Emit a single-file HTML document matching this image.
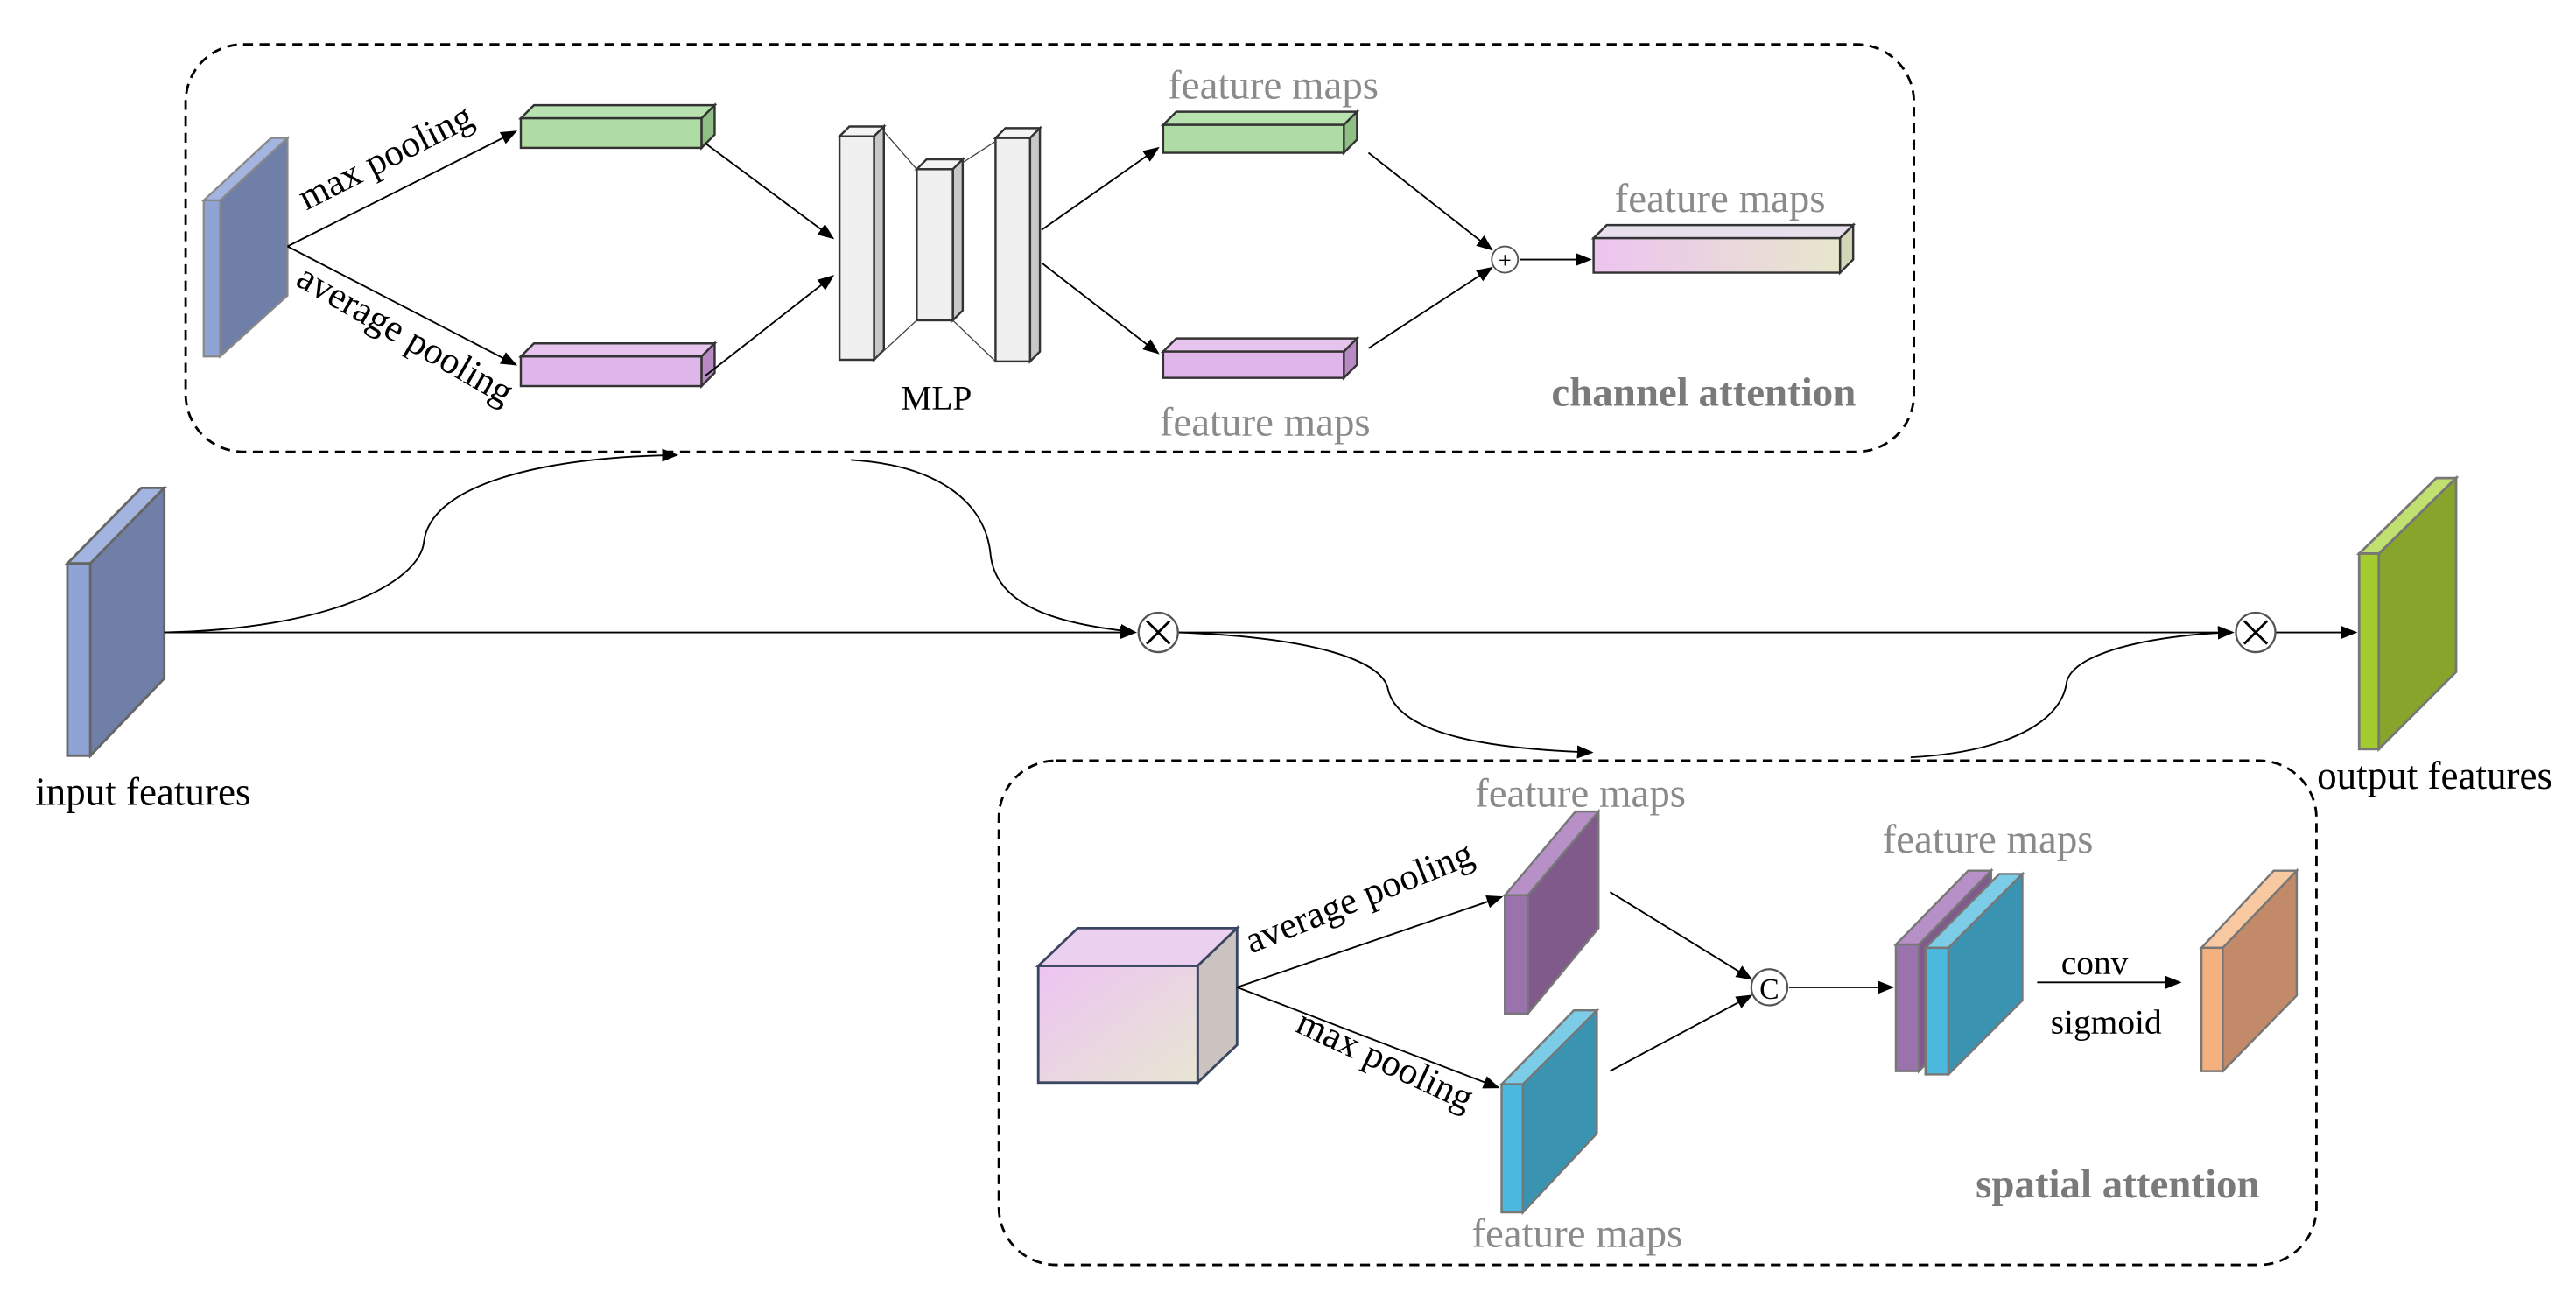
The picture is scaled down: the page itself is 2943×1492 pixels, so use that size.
<!DOCTYPE html>
<html><head><meta charset="utf-8"><style>
html,body{margin:0;padding:0;background:#fff;}
svg{display:block}
text{font-family:"Liberation Serif",serif;}
</style></head><body>
<svg width="2943" height="1492" viewBox="0 0 1568 795" preserveAspectRatio="none" xmlns="http://www.w3.org/2000/svg">
<defs>
<marker id="a" markerWidth="10" markerHeight="10" refX="9" refY="5" orient="auto" markerUnits="userSpaceOnUse"><path d="M0,1 L10,5 L0,9 z" fill="#000"/></marker>
<linearGradient id="g1" x1="0" y1="0" x2="1" y2="0"><stop offset="0" stop-color="#ecc4f0"/><stop offset="1" stop-color="#e8e6cc"/></linearGradient>
<linearGradient id="g2" x1="0" y1="0" x2="1" y2="1"><stop offset="0" stop-color="#ecc4f2"/><stop offset="1" stop-color="#e8e6d2"/></linearGradient>
</defs>
<rect x="113" y="27" width="1052" height="248" rx="35" fill="none" stroke="#000" stroke-width="1.5" stroke-dasharray="6,4"/>
<rect x="608" y="463" width="802" height="307" rx="35" fill="none" stroke="#000" stroke-width="1.5" stroke-dasharray="6,4"/>

<g stroke="#666" stroke-width="1.5">
<polygon points="41,343 86,297 100,297 55,343" fill="#a3b4e0"/>
<rect x="41" y="343" width="14" height="117" fill="#8fa3d4"/>
<polygon points="55,343 100,297 100,413 55,460" fill="#6f7fa8"/>
</g>
<text x="87" y="490" font-size="24" text-anchor="middle">input features</text>

<g stroke="#888" stroke-width="1.2">
<polygon points="124,122 165,84 175,84 134,122" fill="#a3b4e0"/>
<rect x="124" y="122" width="10" height="95" fill="#8fa3d4"/>
<polygon points="134,122 175,84 175,180 134,217" fill="#6f7fa8"/>
</g>

<g stroke="#333" stroke-width="1.3">
<polygon points="317,72 325,64 435,64 427,72" fill="#b8e2b0"/>
<polygon points="427,72 435,64 435,82 427,90" fill="#8fbf85"/>
<rect x="317" y="72" width="110" height="18" fill="#aedca4"/>
<polygon points="317,217 325,209 435,209 427,217" fill="#e6c4ee"/>
<polygon points="427,217 435,209 435,227 427,235" fill="#b88ac4"/>
<rect x="317" y="217" width="110" height="18" fill="#dfb6ea"/>

<polygon points="708,76 716,68 826,68 818,76" fill="#b8e2b0"/>
<polygon points="818,76 826,68 826,85 818,93" fill="#8fbf85"/>
<rect x="708" y="76" width="110" height="17" fill="#aedca4"/>
<polygon points="708,214 716,206 826,206 818,214" fill="#e6c4ee"/>
<polygon points="818,214 826,206 826,222 818,230" fill="#b88ac4"/>
<rect x="708" y="214" width="110" height="16" fill="#dfb6ea"/>

<polygon points="970,145 978,137 1128,137 1120,145" fill="#e8e0ec"/>
<polygon points="1120,145 1128,137 1128,158 1120,166" fill="#d4d6b8"/>
<rect x="970" y="145" width="150" height="21" fill="url(#g1)"/>

<polygon points="511,83 517,77 538,77 532,83" fill="#f4f4f4"/>
<polygon points="532,83 538,77 538,213 532,219" fill="#c8c8c8"/>
<rect x="511" y="83" width="21" height="136" fill="#f0f0f0"/>
<polygon points="558,103 564,97 586,97 580,103" fill="#f4f4f4"/>
<polygon points="580,103 586,97 586,189 580,195" fill="#c8c8c8"/>
<rect x="558" y="103" width="22" height="92" fill="#f0f0f0"/>
<polygon points="606,84 612,78 633,78 627,84" fill="#f4f4f4"/>
<polygon points="627,84 633,78 633,214 627,220" fill="#c8c8c8"/>
<rect x="606" y="84" width="21" height="136" fill="#f0f0f0"/>
</g>
<g stroke="#444" stroke-width="0.7">
<line x1="538" y1="80" x2="558" y2="103"/><line x1="532" y1="219" x2="558" y2="195"/>
<line x1="586" y1="99" x2="606" y2="86"/><line x1="580" y1="195" x2="606" y2="220"/>
</g>
<text x="570" y="249" font-size="21" text-anchor="middle">MLP</text>

<g stroke="#000" stroke-width="1" fill="none" marker-end="url(#a)">
<line x1="175" y1="150" x2="314" y2="80"/>
<line x1="175" y1="150" x2="314" y2="222"/>
<line x1="429" y1="87" x2="507" y2="145"/>
<line x1="429" y1="229" x2="507" y2="168"/>
<line x1="634" y1="140" x2="705" y2="90"/>
<line x1="634" y1="160" x2="705" y2="215"/>
<line x1="833" y1="93" x2="908" y2="152"/>
<line x1="833" y1="212" x2="908" y2="163"/>
<line x1="925" y1="158" x2="968" y2="158"/>
</g>
<circle cx="916" cy="158" r="8" fill="#fff" stroke="#555" stroke-width="1"/>
<text x="916" y="163" font-size="14" text-anchor="middle">+</text>

<text x="238" y="102" font-size="23" text-anchor="middle" transform="rotate(-27 238 102)">max pooling</text>
<text x="243" y="210" font-size="23" text-anchor="middle" transform="rotate(30 243 210)">average pooling</text>
<g fill="#8a8a8a" font-size="25" text-anchor="middle">
<text x="775" y="60">feature maps</text>
<text x="770" y="265">feature maps</text>
<text x="1047" y="129">feature maps</text>
<text x="962" y="491">feature maps</text>
<text x="960" y="759">feature maps</text>
<text x="1210" y="519">feature maps</text>
</g>
<text x="1037" y="247" font-size="25" font-weight="bold" fill="#7a7a7a" text-anchor="middle">channel attention</text>
<text x="1289" y="729" font-size="25" font-weight="bold" fill="#7a7a7a" text-anchor="middle">spatial attention</text>

<g stroke="#000" stroke-width="1" fill="none">
<line x1="100" y1="385" x2="691" y2="385" marker-end="url(#a)"/>
<line x1="717" y1="385" x2="1359" y2="385" marker-end="url(#a)"/>
<line x1="1385" y1="385" x2="1434" y2="385" marker-end="url(#a)"/>
<path d="M100,385 C200,383 255,355 258,330 C262,295 330,278 412,277" marker-end="url(#a)"/>
<path d="M518,280 C570,283 600,305 603,338 C607,372 650,380 691,385" marker-end="url(#a)"/>
<path d="M717,385 C800,388 842,402 845,420 C852,448 910,456 969,458" marker-end="url(#a)"/>
<path d="M1163,461 C1220,458 1255,440 1258,415 C1263,395 1320,386 1359,385" marker-end="url(#a)"/>
</g>
<g stroke="#555" stroke-width="1.2" fill="#fff">
<circle cx="705" cy="385" r="12"/><circle cx="1373" cy="385" r="12"/>
</g>
<g stroke="#000" stroke-width="1.5">
<line x1="698" y1="378" x2="712" y2="392"/><line x1="712" y1="378" x2="698" y2="392"/>
<line x1="1366" y1="378" x2="1380" y2="392"/><line x1="1380" y1="378" x2="1366" y2="392"/>
</g>

<g stroke="#777" stroke-width="1.5">
<polygon points="1436,337 1483,291 1495,291 1448,337" fill="#c0e070"/>
<rect x="1436" y="337" width="12" height="119" fill="#a4cc30"/>
<polygon points="1448,337 1495,291 1495,409 1448,456" fill="#86a52a"/>
</g>
<text x="1482" y="480" font-size="24" text-anchor="middle">output features</text>

<g stroke="#3a4560" stroke-width="1.5">
<polygon points="632,588 656,565 753,565 729,588" fill="#ecd0f0"/>
<polygon points="729,588 753,565 753,636 729,659" fill="#cac3c0"/>
<rect x="632" y="588" width="97" height="71" fill="url(#g2)"/>
</g>

<g stroke="#777" stroke-width="1.3">
<polygon points="916,545 959,494 973,494 930,545" fill="#b890c8"/>
<rect x="916" y="545" width="14" height="72" fill="#9a72ac"/>
<polygon points="930,545 973,494 973,565 930,617" fill="#7f5a8a"/>

<polygon points="914,660 958,615 972,615 927,660" fill="#7ccce8"/>
<rect x="914" y="660" width="13" height="78" fill="#4bb8de"/>
<polygon points="927,660 972,615 972,690 927,738" fill="#3a93b0"/>

<polygon points="1154,575 1198,530 1212,530 1168,575" fill="#b890c8"/>
<rect x="1154" y="575" width="14" height="77" fill="#9a72ac"/>
<polygon points="1168,575 1212,530 1212,607 1168,652" fill="#7f5a8a"/>

<polygon points="1172,577 1217,532 1231,532 1186,577" fill="#7ccce8"/>
<rect x="1172" y="577" width="14" height="77" fill="#4bb8de"/>
<polygon points="1186,577 1231,532 1231,609 1186,654" fill="#3a93b0"/>

<polygon points="1340,577 1384,530 1398,530 1353,577" fill="#f8c8a0"/>
<rect x="1340" y="577" width="13" height="75" fill="#f5b080"/>
<polygon points="1353,577 1398,530 1398,606 1353,652" fill="#c28a68"/>
</g>

<g stroke="#000" stroke-width="1" fill="none" marker-end="url(#a)">
<line x1="753" y1="601" x2="914" y2="546"/>
<line x1="753" y1="601" x2="912" y2="662"/>
<line x1="980" y1="543" x2="1066" y2="596"/>
<line x1="980" y1="652" x2="1066" y2="606"/>
<line x1="1089" y1="601" x2="1152" y2="601"/>
<line x1="1240" y1="598" x2="1327" y2="598"/>
</g>
<circle cx="1077" cy="601" r="11" fill="#fff" stroke="#555" stroke-width="1.2"/>
<text x="1077" y="608" font-size="18" text-anchor="middle" font-family="Liberation Sans, sans-serif">C</text>
<text x="1275" y="593" font-size="21" text-anchor="middle">conv</text>
<text x="1282" y="629" font-size="21" text-anchor="middle">sigmoid</text>
<text x="830" y="553" font-size="23" text-anchor="middle" transform="rotate(-22 830 553)">average pooling</text>
<text x="840" y="652" font-size="23" text-anchor="middle" transform="rotate(25 840 652)">max pooling</text>
</svg>
</body></html>
